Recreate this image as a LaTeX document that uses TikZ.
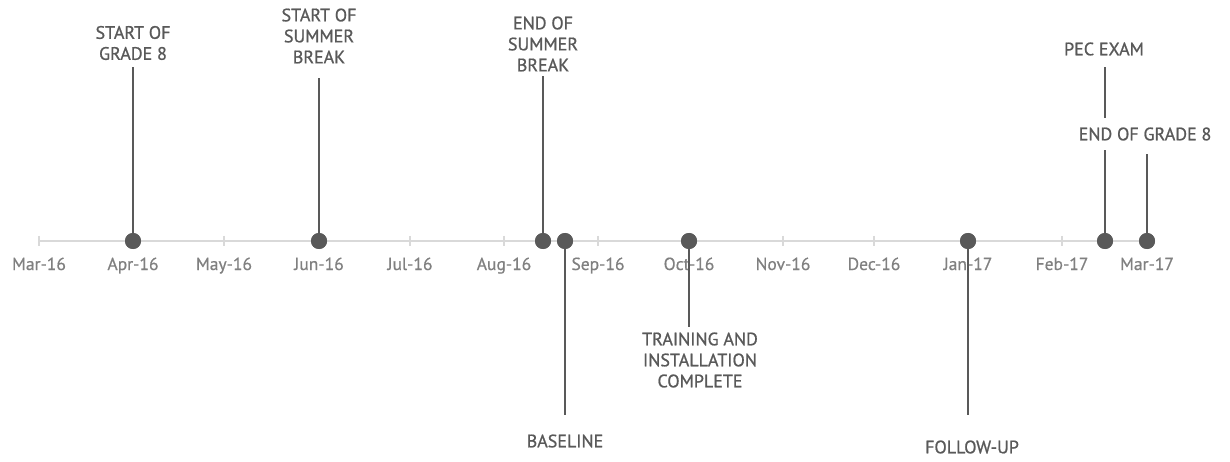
\documentclass[tikz,border=0pt]{standalone}
\usepackage{fontspec}
\setmainfont{PT Sans}
\newfontfamily\evfont[FakeBold=0.9]{PT Sans}
\newfontfamily\monfont[FakeBold=0.6]{PT Sans}
\definecolor{axisgray}{HTML}{D9D9D9}
\definecolor{labgray}{HTML}{808080}
\definecolor{darkg}{HTML}{595959}
\begin{document}
\begin{tikzpicture}[x=1pt,y=-1pt,
 dot/.style={circle,fill=darkg,inner sep=0pt,minimum size=16pt},
 stem/.style={draw=darkg,line width=2pt},
 ev/.style={text=darkg,font=\evfont\fontsize{18}{21}\selectfont,align=center,inner sep=0pt},
 mon/.style={text=labgray,font=\monfont\fontsize{17.5}{18}\selectfont,inner sep=0pt,anchor=base},
 tickm/.style={draw=axisgray,line width=1.2pt},
 axisline/.style={draw=axisgray,line width=2pt}]
\useasboundingbox[fill=white] (0,0) rectangle (1230,462);
% axis
\coordinate (ax0) at (39,241);
\coordinate (ax1) at (1147,241);
\draw[axisline] (ax0) -- (ax1);
% ticks and month labels
\foreach \x/\m [count=\i] in {39/Mar-16,133/Apr-16,224/May-16,319/Jun-16,410/Jul-16,504/Aug-16,598/Sep-16,689/Oct-16,783/Nov-16,874/Dec-16,968/Jan-17,1062/Feb-17,1147/Mar-17}{
  \coordinate (t\i a) at (\x,236);
  \coordinate (t\i b) at (\x,246);
  \draw[tickm] (t\i a) -- (t\i b);
  \node[mon] (m\i) at (\x,270) {\m};
}
% event labels above
\node[ev] (lg8) at (133,43) {START OF\\GRADE 8};
\node[ev] (lss) at (319,36) {START OF\\SUMMER\\BREAK};
\node[ev] (les) at (543,44) {END OF\\SUMMER\\BREAK};
\node[ev] (lpec) at (1104,49) {PEC EXAM};
% event labels below
\node[ev] (lbase) at (565,441) {BASELINE};
\node[ev] (ltr) at (700,360) {TRAINING AND\\INSTALLATION\\COMPLETE};
\node[ev] (lfu) at (972,447) {FOLLOW-UP};
% stem ends
\coordinate (sg8) at (133,67);
\coordinate (sss) at (319,78);
\coordinate (ses) at (543,76);
\coordinate (spec) at (1105,67);
\coordinate (seg) at (1147,154);
\coordinate (sbase) at (565,415);
\coordinate (str) at (689,327);
\coordinate (sfu) at (968,415);
% dots
\node[dot] (d1) at (133,241) {};
\node[dot] (d2) at (319,241) {};
\node[dot] (d3) at (543,241) {};
\node[dot] (d4) at (565,241) {};
\node[dot] (d5) at (689,241) {};
\node[dot] (d6) at (968,241) {};
\node[dot] (d7) at (1105,241) {};
\node[dot] (d8) at (1147,241) {};
% stems
\draw[stem] (d1.center) -- (sg8);
\draw[stem] (d2.center) -- (sss);
\draw[stem] (d3.center) -- (ses);
\draw[stem] (d4.center) -- (sbase);
\draw[stem] (d5.center) -- (str);
\draw[stem] (d6.center) -- (sfu);
\draw[stem] (d7.center) -- (spec);
\draw[stem] (d8.center) -- (seg);
\node[dot] at (d1) {};\node[dot] at (d2) {};\node[dot] at (d3) {};\node[dot] at (d4) {};
\node[dot] at (d5) {};\node[dot] at (d6) {};\node[dot] at (d7) {};\node[dot] at (d8) {};
% label over the PEC stem
\node[ev,fill=white,inner xsep=2pt,inner ysep=9pt] (leg) at (1145,134) {END OF GRADE 8};
\end{tikzpicture}
\end{document}
